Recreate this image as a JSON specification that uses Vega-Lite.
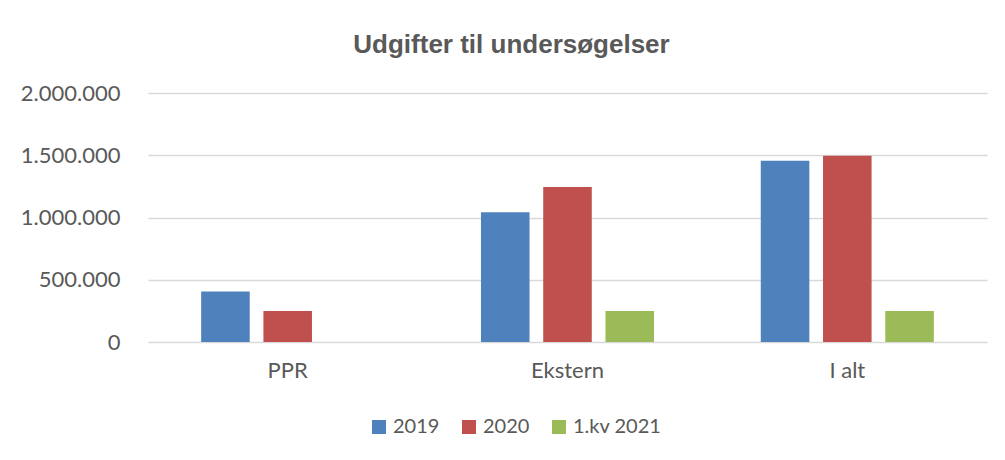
{
  "$schema": "https://vega.github.io/schema/vega-lite/v6.json",
  "width": 839,
  "height": 249,
  "autosize": {"type": "none"},
  "padding": {"left": 148, "top": 93, "right": 18, "bottom": 118},
  "background": "white",
  "config": {
    "locale": {"number": {"decimal": ",", "thousands": ".", "grouping": [3], "currency": ["", " kr."]}},
    "view": {"stroke": null},
    "font": "Lato"
  },
  "title": {
    "text": "Udgifter til undersøgelser",
    "font": "Liberation Sans",
    "fontSize": 26,
    "fontWeight": "bold",
    "color": "#595959",
    "anchor": "middle",
    "offset": 24,
    "dx": -56
  },
  "data": {
    "values": [
      {"kategori": "PPR", "periode": "2019", "udgift": 405000},
      {"kategori": "PPR", "periode": "2020", "udgift": 250000},
      {"kategori": "Ekstern", "periode": "2019", "udgift": 1043000},
      {"kategori": "Ekstern", "periode": "2020", "udgift": 1244000},
      {"kategori": "Ekstern", "periode": "1.kv 2021", "udgift": 250000},
      {"kategori": "I alt", "periode": "2019", "udgift": 1455000},
      {"kategori": "I alt", "periode": "2020", "udgift": 1495000},
      {"kategori": "I alt", "periode": "1.kv 2021", "udgift": 250000}
    ]
  },
  "mark": {"type": "bar"},
  "encoding": {
    "x": {
      "field": "kategori",
      "type": "nominal",
      "sort": ["PPR", "Ekstern", "I alt"],
      "scale": {"paddingInner": 0.3815, "paddingOuter": 0.19},
      "axis": {
        "title": null,
        "labelAngle": 0,
        "domain": false,
        "ticks": false,
        "labelFont": "Lato",
        "labelFontSize": 22,
        "labelColor": "#595959",
        "labelPadding": 18
      }
    },
    "xOffset": {
      "field": "periode",
      "type": "nominal",
      "sort": ["2019", "2020", "1.kv 2021"],
      "scale": {"paddingInner": 0.22, "paddingOuter": 0}
    },
    "y": {
      "field": "udgift",
      "type": "quantitative",
      "scale": {"domain": [0, 2000000]},
      "axis": {
        "title": null,
        "values": [0, 500000, 1000000, 1500000, 2000000],
        "format": ",d",
        "domain": false,
        "ticks": false,
        "labelFont": "Lato",
        "labelFontSize": 22,
        "labelColor": "#595959",
        "labelPadding": 28,
        "gridColor": "#d9d9d9",
        "gridWidth": 1.5
      }
    },
    "color": {
      "field": "periode",
      "type": "nominal",
      "sort": ["2019", "2020", "1.kv 2021"],
      "scale": {"domain": ["2019", "2020", "1.kv 2021"], "range": ["#4F81BD", "#C0504D", "#9BBB59"]},
      "legend": {
        "title": null,
        "orient": "none",
        "direction": "horizontal",
        "legendX": 221,
        "legendY": 324,
        "symbolType": "square",
        "symbolSize": 196,
        "symbolStrokeWidth": 0,
        "labelFont": "Lato",
        "labelFontSize": 20,
        "labelColor": "#595959",
        "columnPadding": 19,
        "labelOffset": 4,
        "padding": 0
      }
    }
  }
}
